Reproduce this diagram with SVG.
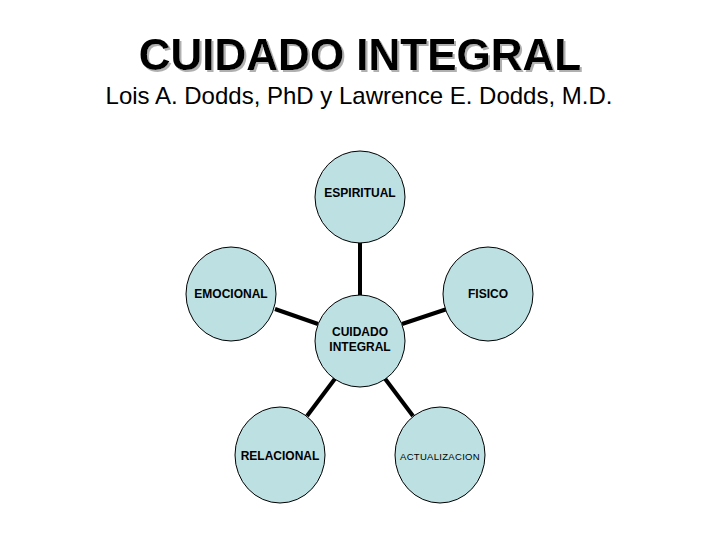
<svg xmlns="http://www.w3.org/2000/svg" width="720" height="540" viewBox="0 0 720 540">
<defs>
<filter id="shadow" x="-5%" y="-20%" width="110%" height="140%">
<feOffset in="SourceAlpha" dx="2" dy="2" result="off"/>
<feFlood flood-color="#b0b0b0"/>
<feComposite in2="off" operator="in" result="sh"/>
<feMerge><feMergeNode in="sh"/><feMergeNode in="SourceGraphic"/></feMerge>
</filter>
</defs>
<style>
.title{font-family:"Liberation Sans",Arial,sans-serif;font-weight:bold;font-size:44px;text-anchor:middle;fill:#000}
.sub{font-family:"Liberation Sans",Arial,sans-serif;font-size:24px;text-anchor:middle;fill:#000}
.node ellipse{fill:#bde0e3;stroke:#000;stroke-width:1}
.node text{font-family:"Liberation Sans",Arial,sans-serif;font-weight:bold;font-size:12px;text-anchor:middle;fill:#000}
.node text.thin{font-weight:normal;font-size:9.5px;letter-spacing:0.3px}
.conn line{stroke:#000;stroke-width:4}
</style>
<rect width="720" height="540" fill="#fff"/>
<text class="title" x="360" y="70" filter="url(#shadow)">CUIDADO INTEGRAL</text>
<text class="sub" x="359" y="104">Lois A. Dodds, PhD y Lawrence E. Dodds, M.D.</text>
<g id="connectors" class="conn">
<line x1="360" y1="242" x2="360" y2="296"/>
<line x1="275" y1="309" x2="318" y2="324"/>
<line x1="447" y1="309" x2="402" y2="324"/>
<line x1="307" y1="416" x2="337" y2="376"/>
<line x1="413" y1="416" x2="383" y2="376"/>
</g>
<g id="espiritual" class="node"><ellipse cx="360" cy="197" rx="45" ry="46"/><text x="360" y="197">ESPIRITUAL</text></g>
<g id="emocional" class="node"><ellipse cx="231" cy="294" rx="45" ry="47"/><text x="231" y="298">EMOCIONAL</text></g>
<g id="fisico" class="node"><ellipse cx="488" cy="294" rx="45" ry="47"/><text x="488" y="298">FISICO</text></g>
<g id="cuidado" class="node"><ellipse cx="360" cy="341" rx="45" ry="46"/><text x="360" y="336">CUIDADO</text><text x="360" y="351">INTEGRAL</text></g>
<g id="relacional" class="node"><ellipse cx="280" cy="455" rx="45" ry="48"/><text x="280" y="460">RELACIONAL</text></g>
<g id="actualizacion" class="node"><ellipse cx="440" cy="455" rx="45" ry="48"/><text class="thin" x="440" y="460">ACTUALIZACION</text></g>
</svg>
